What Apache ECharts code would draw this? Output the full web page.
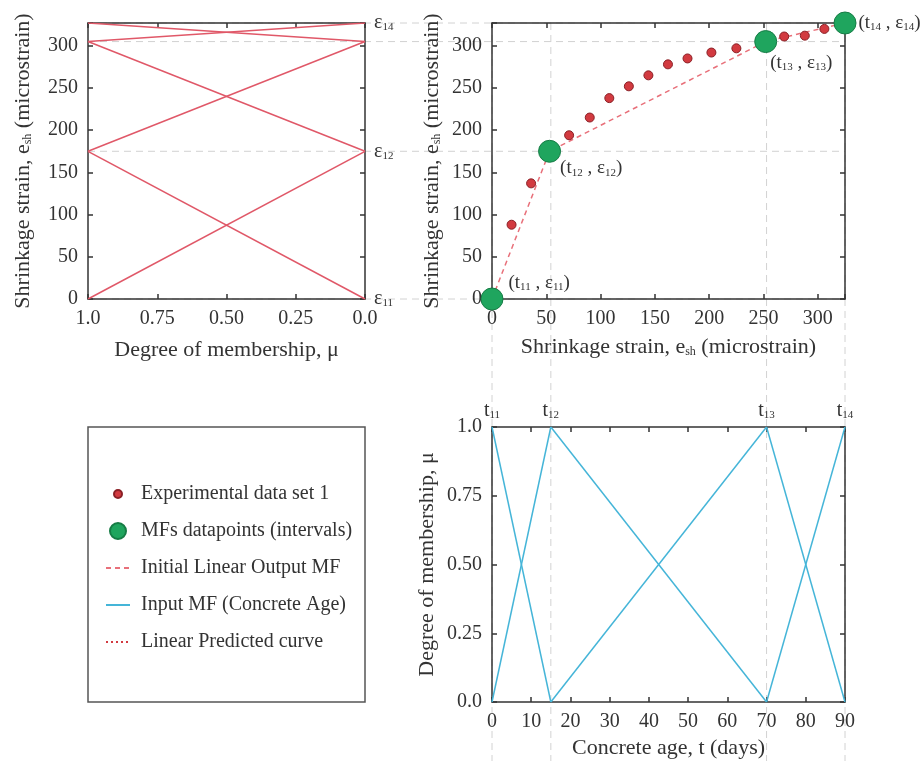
<!DOCTYPE html>
<html>
<head>
<meta charset="utf-8">
<script src="https://cdn.jsdelivr.net/npm/echarts@6/dist/echarts.min.js"></script>
<style>
  html, body { margin: 0; padding: 0; background: #fff; }
  #chart { width: 920px; height: 761px; }
</style>
</head>
<body>
<div id="chart"></div>
<script>
// output MF levels (strain) and input MF levels (days)
const epsLevels = [0, 175, 305, 327];
const levelSubs = ['11', '12', '13', '14'];
const tDays = [0, 15, 70, 90];
const mfStrainX = [0, 53, 252, 325];

// experimental data set 1
const expX = [18, 36, 71, 90, 108, 126, 144, 162, 180, 202, 225, 269, 288, 306];
const expY = [88, 137, 194, 215, 238, 252, 265, 278, 285, 292, 297, 311, 312, 320];

const muTickLabels = { 0: '0.0', 0.25: '0.25', 0.5: '0.50', 0.75: '0.75', 1: '1.0' };

const FONT = 'Liberation Serif';
const INK = '#333';
const RED_LINE = '#e05868';
const BLUE = '#45b5d8';
const GREEN = '#1fa55e';
const DOT_RED = '#d23a40';
const GUIDE = '#d2d2d2';

const STRAIN_MAX = 327;
const STRAIN_X_MAX = 325;

// layout
const G0 = { left: 88, top: 23, width: 277, height: 276 };
const G1 = { left: 492, top: 23, width: 353, height: 276 };
const G2 = { left: 492, top: 427, width: 353, height: 275 };

const sub = {
  s: { fontSize: 11, fontFamily: FONT, color: INK, padding: [9, 0, 0, 0] }
};

function frameAxis(extra) {
  return Object.assign({
    type: 'value',
    axisLine: { show: true, onZero: false, lineStyle: { color: INK, width: 1.5 } },
    axisTick: { show: true, inside: true, length: 5, lineStyle: { color: INK, width: 1.5 } },
    axisLabel: { show: false },
    splitLine: { show: false }
  }, extra);
}

function labelStyle(extra) {
  return Object.assign({
    show: true, fontFamily: FONT, fontSize: 20, color: INK, margin: 10,
    hideOverlap: false, showMinLabel: true, showMaxLabel: true
  }, extra);
}

function nameStyle() {
  return { fontFamily: FONT, fontSize: 22, color: INK, rich: { s: { fontSize: 12, fontFamily: FONT, color: INK, padding: [10, 0, 0, 0] } } };
}

function strainFmt(v) {
  return v % 50 === 0 ? String(v) : '';
}

var chart = echarts.init(document.getElementById('chart'));

var series = [];

function seg(name, a, b, xi, yi, color) {
  return {
    name: name,
    type: 'line',
    xAxisIndex: xi,
    yAxisIndex: yi,
    data: [a, b],
    symbol: 'none',
    lineStyle: { color: color, width: 1.5 },
    itemStyle: { color: color },
    z: 3
  };
}

// output MFs (left panel)
for (let i = 0; i < epsLevels.length - 1; i++) {
  series.push(seg('Output MF', [1, epsLevels[i]], [0, epsLevels[i + 1]], 0, 0, RED_LINE));
  series.push(seg('Output MF', [1, epsLevels[i + 1]], [0, epsLevels[i]], 0, 0, RED_LINE));
}

// input MFs (bottom panel)
for (let i = 0; i < tDays.length - 1; i++) {
  series.push(seg('Input MF (Concrete Age)', [tDays[i], 1], [tDays[i + 1], 0], 4, 4, BLUE));
  series.push(seg('Input MF (Concrete Age)', [tDays[i], 0], [tDays[i + 1], 1], 4, 4, BLUE));
}

var mfPoints = mfStrainX.map(function (x, i) { return [x, epsLevels[i]]; });

series.push({
  name: 'Initial Linear Output MF',
  type: 'line',
  xAxisIndex: 2,
  yAxisIndex: 2,
  data: mfPoints,
  symbol: 'none',
  lineStyle: { color: '#e8707a', width: 1.5, type: [5, 4] },
  itemStyle: { color: '#e8707a' },
  z: 3
});

series.push({
  name: 'Linear Predicted curve',
  type: 'line',
  xAxisIndex: 2,
  yAxisIndex: 2,
  data: [],
  symbol: 'none',
  lineStyle: { color: DOT_RED, width: 2.5, type: [2, 3] },
  itemStyle: { color: DOT_RED }
});

series.push({
  name: 'Experimental data set 1',
  type: 'scatter',
  xAxisIndex: 2,
  yAxisIndex: 2,
  data: expX.map(function (x, i) { return [x, expY[i]]; }),
  symbol: 'circle',
  symbolSize: 9,
  itemStyle: { color: DOT_RED, borderColor: '#8a2026', borderWidth: 1, opacity: 1 },
  z: 4
});

// label placement for each MF datapoint
const mfLabelOffsets = [[0, -16], [-6, 17], [-12, 21], [-3, 0]];

series.push({
  name: 'MFs datapoints (intervals)',
  type: 'scatter',
  xAxisIndex: 2,
  yAxisIndex: 2,
  data: mfPoints.map(function (p, i) {
    return {
      value: p,
      label: {
        show: true,
        position: 'right',
        offset: mfLabelOffsets[i],
        formatter: '(t{s|' + levelSubs[i] + '} , ε{s|' + levelSubs[i] + '})',
        fontFamily: FONT,
        fontSize: 19,
        color: INK,
        rich: sub
      }
    };
  }),
  symbol: 'circle',
  symbolSize: 22,
  itemStyle: { color: GREEN, borderColor: '#167c45', borderWidth: 1, opacity: 1 },
  z: 5
});

// line-only legend entries: hide the marker that ECharts puts on the line
const noMarker = { color: 'rgba(0,0,0,0)', borderColor: 'rgba(0,0,0,0)', borderWidth: 0 };

option = {
  animation: false,
  backgroundColor: '#fff',
  textStyle: { fontFamily: FONT },
  grid: [
    Object.assign({ outerBoundsMode: 'none', containLabel: false }, G0),
    Object.assign({ outerBoundsMode: 'none', containLabel: false }, G1),
    Object.assign({ outerBoundsMode: 'none', containLabel: false }, G2)
  ],
  xAxis: [
    frameAxis({
      gridIndex: 0, position: 'bottom', min: 0, max: 1, interval: 0.25, inverse: true,
      axisLabel: labelStyle({ formatter: function (v) { return muTickLabels[v]; } }),
      name: 'Degree of membership, μ', nameLocation: 'middle', nameGap: 40, nameTextStyle: nameStyle()
    }),
    frameAxis({ gridIndex: 0, position: 'top', min: 0, max: 1, interval: 0.25, inverse: true }),
    frameAxis({
      gridIndex: 1, position: 'bottom', min: 0, max: STRAIN_X_MAX, interval: 50,
      axisLabel: labelStyle({ formatter: strainFmt }),
      name: 'Shrinkage strain, e{s|sh} (microstrain)', nameLocation: 'middle', nameGap: 37, nameTextStyle: nameStyle()
    }),
    frameAxis({ gridIndex: 1, position: 'top', min: 0, max: STRAIN_X_MAX, interval: 50 }),
    frameAxis({
      gridIndex: 2, position: 'bottom', min: 0, max: 90, interval: 10,
      axisLabel: labelStyle({}),
      name: 'Concrete age, t (days)', nameLocation: 'middle', nameGap: 35, nameTextStyle: nameStyle()
    }),
    frameAxis({
      gridIndex: 2, position: 'top', min: 0, max: 90, interval: 10,
      axisLabel: labelStyle({
        customValues: tDays,
        margin: 6,
        formatter: function (v) {
          var i = tDays.indexOf(v);
          return i < 0 ? '' : 't{s|' + levelSubs[i] + '}';
        },
        rich: sub
      })
    })
  ],
  yAxis: [
    frameAxis({
      gridIndex: 0, position: 'left', min: 0, max: STRAIN_MAX, interval: 50,
      axisLabel: labelStyle({ formatter: strainFmt }),
      name: 'Shrinkage strain, e{s|sh} (microstrain)', nameLocation: 'middle', nameGap: 54, nameTextStyle: nameStyle()
    }),
    frameAxis({
      gridIndex: 0, position: 'right', min: 0, max: STRAIN_MAX, interval: 50,
      axisLabel: labelStyle({
        customValues: epsLevels,
        margin: 9,
        formatter: function (v) {
          var i = epsLevels.indexOf(v);
          return i < 0 ? '' : 'ε{s|' + levelSubs[i] + '}';
        },
        rich: sub
      })
    }),
    frameAxis({
      gridIndex: 1, position: 'left', min: 0, max: STRAIN_MAX, interval: 50,
      axisLabel: labelStyle({ formatter: strainFmt }),
      name: 'Shrinkage strain, e{s|sh} (microstrain)', nameLocation: 'middle', nameGap: 49, nameTextStyle: nameStyle()
    }),
    frameAxis({ gridIndex: 1, position: 'right', min: 0, max: STRAIN_MAX, interval: 50 }),
    frameAxis({
      gridIndex: 2, position: 'left', min: 0, max: 1, interval: 0.25,
      axisLabel: labelStyle({ formatter: function (v) { return muTickLabels[v]; } }),
      name: 'Degree of membership, μ', nameLocation: 'middle', nameGap: 54, nameTextStyle: nameStyle()
    }),
    frameAxis({ gridIndex: 2, position: 'right', min: 0, max: 1, interval: 0.25 })
  ],
  legend: {
    orient: 'vertical',
    left: 100,
    top: 479,
    itemWidth: 24,
    itemHeight: 16,
    itemGap: 17,
    selectedMode: false,
    textStyle: { fontFamily: FONT, fontSize: 20, color: INK, padding: [0, 0, 0, 6] },
    data: [
      { name: 'Experimental data set 1', icon: 'path://M0,0M16,16M8,4A4,4,0,1,1,8,12A4,4,0,1,1,8,4Z' },
      { name: 'MFs datapoints (intervals)', icon: 'circle' },
      { name: 'Initial Linear Output MF', itemStyle: noMarker },
      { name: 'Input MF (Concrete Age)', itemStyle: noMarker },
      { name: 'Linear Predicted curve', itemStyle: noMarker }
    ]
  },
  series: series
};

chart.setOption(option);

// dashed guide lines that tie the three panels together
var guides = [];
function guide(x1, y1, x2, y2) {
  return {
    type: 'line',
    z: 0,
    silent: true,
    shape: { x1: x1, y1: y1, x2: x2, y2: y2 },
    style: { stroke: GUIDE, lineWidth: 1, lineDash: [7, 5] }
  };
}
var xLeft = chart.convertToPixel({ xAxisIndex: 0 }, 1);
var xRight = chart.convertToPixel({ xAxisIndex: 2 }, STRAIN_X_MAX);
epsLevels.forEach(function (v) {
  var y = chart.convertToPixel({ yAxisIndex: 0 }, v);
  guides.push(guide(xLeft, y, xRight, y));
});
var yTop = chart.convertToPixel({ yAxisIndex: 2 }, STRAIN_MAX);
tDays.forEach(function (d) {
  var x = chart.convertToPixel({ xAxisIndex: 4 }, d);
  guides.push(guide(x, yTop, x, 761));
});
// legend frame, sharing the left panel's column and the bottom panel's row
guides.push({
  type: 'rect',
  z: 1,
  silent: true,
  shape: { x: G0.left, y: G2.top, width: G0.width, height: G2.height },
  style: { fill: 'none', stroke: '#555', lineWidth: 1.5 }
});

chart.setOption({ graphic: { elements: guides } });
</script>
</body>
</html>
